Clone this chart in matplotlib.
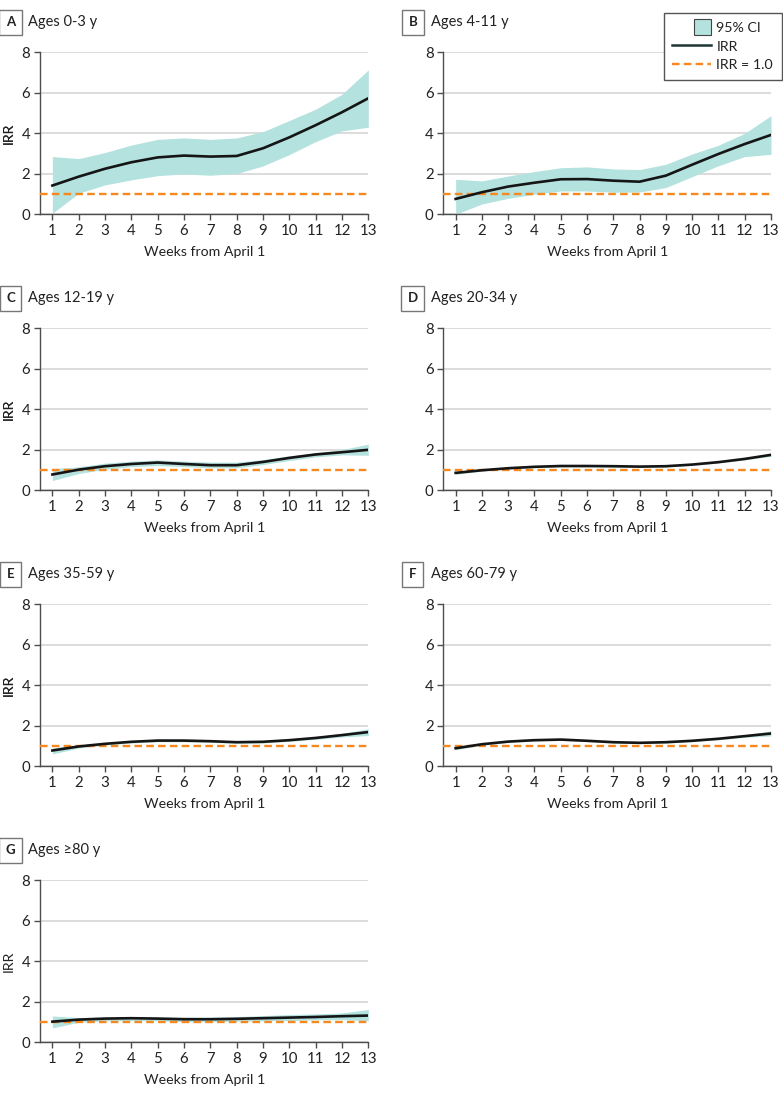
import matplotlib
matplotlib.use("Agg")
import matplotlib.pyplot as plt
from matplotlib.patches import Rectangle
from matplotlib.lines import Line2D
from matplotlib.legend_handler import HandlerPatch

plt.rcParams['font.family'] = ['Lato', 'DejaVu Sans']

weeks = list(range(1, 14))

panel_letters = ["A", "B", "C", "D", "E", "F", "G"]
panel_titles = ["Ages 0-3 y", "Ages 4-11 y", "Ages 12-19 y", "Ages 20-34 y",
                "Ages 35-59 y", "Ages 60-79 y", "Ages ≥80 y"]

irr_a = [1.42, 1.86, 2.25, 2.57, 2.81, 2.90, 2.85, 2.88, 3.26, 3.80, 4.40, 5.04, 5.73]
up_a = [2.85, 2.75, 3.05, 3.42, 3.70, 3.77, 3.70, 3.77, 4.08, 4.63, 5.19, 5.93, 7.13]
lo_a = [0.05, 1.04, 1.45, 1.70, 1.91, 1.99, 1.93, 2.01, 2.39, 2.95, 3.59, 4.12, 4.30]

irr_b = [0.76, 1.09, 1.37, 1.56, 1.73, 1.74, 1.66, 1.61, 1.91, 2.45, 2.98, 3.47, 3.92]
up_b = [1.73, 1.65, 1.89, 2.11, 2.30, 2.34, 2.24, 2.21, 2.47, 2.98, 3.41, 4.00, 4.87]
lo_b = [0.00, 0.51, 0.79, 0.99, 1.15, 1.15, 1.09, 1.10, 1.32, 1.86, 2.40, 2.85, 2.96]

irr_c = [0.78, 1.02, 1.19, 1.30, 1.37, 1.30, 1.24, 1.24, 1.40, 1.60, 1.77, 1.88, 2.00]
up_c = [1.07, 1.16, 1.34, 1.44, 1.50, 1.44, 1.39, 1.39, 1.52, 1.70, 1.85, 2.01, 2.28]
lo_c = [0.48, 0.83, 1.04, 1.17, 1.22, 1.17, 1.11, 1.11, 1.27, 1.47, 1.65, 1.75, 1.73]

irr_d = [0.86, 0.99, 1.09, 1.16, 1.20, 1.20, 1.19, 1.17, 1.19, 1.27, 1.39, 1.55, 1.75]
up_d = [0.92, 1.04, 1.13, 1.20, 1.24, 1.24, 1.23, 1.21, 1.23, 1.31, 1.43, 1.60, 1.82]
lo_d = [0.79, 0.95, 1.05, 1.12, 1.16, 1.16, 1.15, 1.13, 1.15, 1.23, 1.35, 1.50, 1.68]

irr_e = [0.78, 0.98, 1.11, 1.21, 1.27, 1.27, 1.24, 1.19, 1.21, 1.29, 1.40, 1.54, 1.69]
up_e = [0.91, 1.05, 1.17, 1.27, 1.34, 1.33, 1.30, 1.25, 1.27, 1.35, 1.47, 1.63, 1.85]
lo_e = [0.61, 0.90, 1.05, 1.15, 1.21, 1.21, 1.18, 1.13, 1.15, 1.23, 1.33, 1.45, 1.52]

irr_f = [0.89, 1.09, 1.22, 1.29, 1.32, 1.26, 1.19, 1.16, 1.19, 1.26, 1.36, 1.49, 1.62]
up_f = [0.95, 1.13, 1.26, 1.33, 1.37, 1.30, 1.23, 1.20, 1.23, 1.30, 1.41, 1.55, 1.75]
lo_f = [0.82, 1.04, 1.18, 1.25, 1.28, 1.22, 1.15, 1.12, 1.15, 1.22, 1.31, 1.43, 1.50]

irr_g = [1.02, 1.12, 1.17, 1.19, 1.17, 1.14, 1.14, 1.16, 1.19, 1.22, 1.25, 1.29, 1.32]
up_g = [1.30, 1.22, 1.25, 1.27, 1.25, 1.24, 1.24, 1.27, 1.32, 1.37, 1.40, 1.45, 1.62]
lo_g = [0.71, 0.99, 1.06, 1.07, 1.06, 1.02, 1.02, 1.04, 1.06, 1.07, 1.11, 1.12, 1.06]

irr_all = [irr_a, irr_b, irr_c, irr_d, irr_e, irr_f, irr_g]
up_all = [up_a, up_b, up_c, up_d, up_e, up_f, up_g]
lo_all = [lo_a, lo_b, lo_c, lo_d, lo_e, lo_f, lo_g]

y_ticks = [0, 2, 4, 6, 8]
ref_value = 1.0

W, H = 783, 1097
FILL = "#b3e2df"
LINE = "#151515"
ORANGE = "#f5891f"
GRID = "#d9d9d9"
SPINE = "#4d4d4d"
TXT = "#222222"

fig = plt.figure(figsize=(W / 100, H / 100), dpi=100)

col_left = [40, 443.3]
col_right = [368.3, 771]
row_top = [52.3, 328.3, 604.3, 880.3]
ax_h = 162.0

for i in range(7):
    r, c = divmod(i, 2)
    l, rr = col_left[c], col_right[c]
    top = row_top[r]
    ax = fig.add_axes([l / W, 1 - (top + ax_h) / H, (rr - l) / W, ax_h / H])
    ax.fill_between(weeks, lo_all[i], up_all[i], color=FILL, linewidth=0, zorder=2)
    ax.axhline(ref_value, color=ORANGE, linestyle=(0, (3.2, 1.8)), linewidth=1.7, zorder=3)
    ax.plot(weeks, irr_all[i], color=LINE, linewidth=1.9, zorder=4)
    ax.set_xlim(0.53, 13)
    ax.set_ylim(0, 8)
    ax.set_xticks(weeks)
    ax.set_yticks(y_ticks)
    ax.grid(axis='y', color=GRID, linewidth=1.3, zorder=0)
    ax.set_axisbelow(True)
    for s in ['top', 'right']:
        ax.spines[s].set_visible(False)
    for s in ['left', 'bottom']:
        ax.spines[s].set_color(SPINE)
        ax.spines[s].set_linewidth(1.0)
    ax.tick_params(axis='both', colors=SPINE, labelcolor=TXT, labelsize=10.8,
                   length=4, width=1.0, pad=3)
    ax.set_xlabel("Weeks from April 1", fontsize=10.2, color=TXT, labelpad=6)
    ax.set_ylabel("IRR", fontsize=10.2, color=TXT)
    ax.yaxis.set_label_coords(-(l - 15) / (rr - l), 0.5)

    # panel letter box and title
    bx = [10.5, 412.8][c]
    tx = [28, 430.7][c]
    ty = top - 30
    fig.text(bx / W, 1 - ty / H, panel_letters[i], fontsize=9.5, fontweight='bold',
             color=TXT, ha='center', va='center',
             bbox=dict(boxstyle='square,pad=0.5', facecolor='white',
                       edgecolor='#777777', linewidth=1.0))
    fig.text(tx / W, 1 - ty / H, panel_titles[i], fontsize=10.5, color=TXT,
             ha='left', va='center')


def make_patch(legend, orig_handle, xdescent, ydescent, width, height, fontsize):
    return Rectangle((width * 0.57 - xdescent, -ydescent - height * 0.2),
                     width * 0.43, height * 1.4)


handles = [Rectangle((0, 0), 1, 1, facecolor=FILL, edgecolor='#444444', linewidth=0.8),
           Line2D([], [], color='#1d3535', linewidth=1.8),
           Line2D([], [], color=ORANGE, linestyle=(0, (3.2, 1.8)), linewidth=1.7)]
labels = ["95% CI", "IRR", "IRR = 1.0"]
leg = fig.legend(handles, labels, loc='upper right',
                 bbox_to_anchor=(781.5 / W, 1 - 13 / H), borderaxespad=0,
                 fontsize=10.2, frameon=True, fancybox=False, framealpha=1,
                 edgecolor='#555555', handlelength=2.7, handletextpad=0.4,
                 borderpad=0.6, labelspacing=0.45, handleheight=0.8,
                 handler_map={Rectangle: HandlerPatch(patch_func=make_patch)})
leg.get_frame().set_linewidth(1.0)
for t in leg.get_texts():
    t.set_color(TXT)

fig.savefig("out.png", dpi=100)
